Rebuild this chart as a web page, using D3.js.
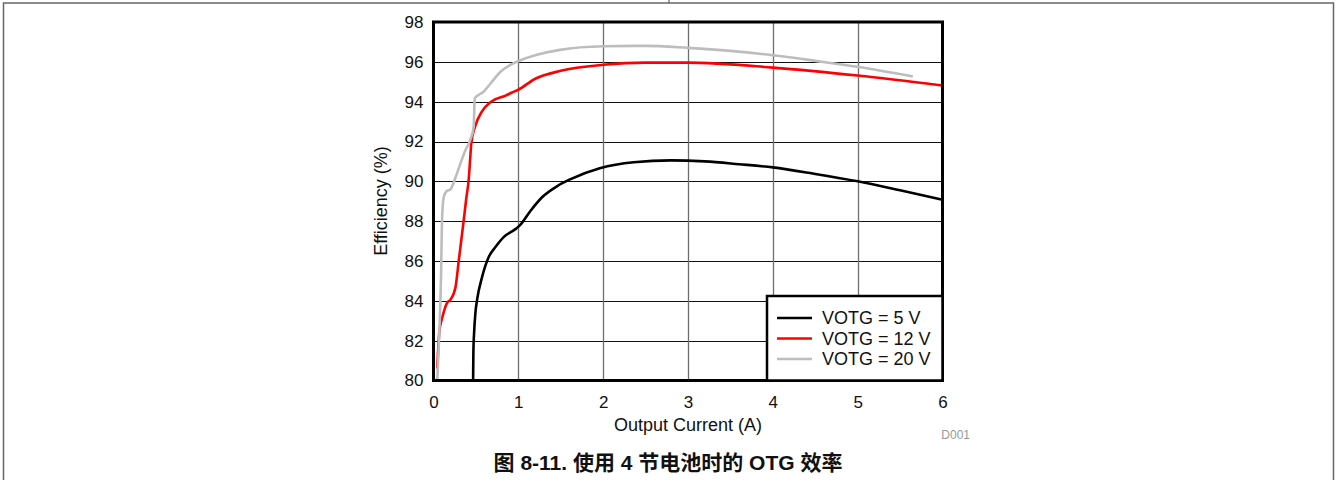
<!DOCTYPE html>
<html>
<head>
<meta charset="utf-8">
<script src="https://cdn.jsdelivr.net/npm/d3@7"></script>
<style>
  html, body { margin: 0; padding: 0; background: #fff; }
  svg { display: block; font-family: "Liberation Sans", Arial, sans-serif; }
</style>
</head>
<body>
<svg id="chart" width="1337" height="480"></svg>
<script>
// Output current (A) vs. efficiency (%) for each OTG output voltage
const series5V = [
  [0.467, 80.0], [0.470, 81.4], [0.480, 82.5], [0.494, 83.4], [0.514, 84.06],
  [0.573, 85.2], [0.651, 86.2], [0.73, 86.7], [0.827, 87.2], [0.965, 87.6],
  [1.02, 87.8], [1.14, 88.5], [1.28, 89.2], [1.455, 89.75], [1.61, 90.1],
  [1.96, 90.66], [2.36, 90.96], [2.8, 91.05], [3.2, 91.0], [3.6, 90.86],
  [4.0, 90.7], [4.5, 90.37], [5.0, 90.0], [5.5, 89.55], [6.0, 89.08]
];
const series12V = [
  [0.044, 80.6], [0.07, 82.5], [0.10, 83.1], [0.16, 83.9], [0.20, 84.06],
  [0.26, 84.7], [0.30, 86.1], [0.357, 88.07], [0.385, 89.1], [0.415, 90.1],
  [0.435, 91.3], [0.445, 91.9], [0.49, 92.75], [0.57, 93.5], [0.68, 94.0],
  [0.85, 94.3], [0.92, 94.45], [1.0, 94.6], [1.2, 95.15], [1.5, 95.55],
  [2.0, 95.85], [2.5, 95.96], [3.0, 95.96], [4.0, 95.71], [5.0, 95.31], [6.0, 94.81]
];
const series20V = [
  [0.044, 80.0], [0.06, 81.5], [0.074, 83.0], [0.09, 85.5], [0.10, 88.0],
  [0.12, 89.2], [0.153, 89.5], [0.2, 89.6], [0.26, 90.2], [0.318, 90.9],
  [0.37, 91.5], [0.435, 92.1], [0.474, 92.75], [0.486, 94.17], [0.59, 94.5],
  [0.67, 94.9], [0.79, 95.5], [0.906, 95.85], [1.02, 96.07], [1.22, 96.35],
  [1.49, 96.6], [2.0, 96.78], [2.5, 96.8], [3.0, 96.7], [3.5, 96.55],
  [4.0, 96.33], [4.5, 96.05], [5.0, 95.75], [5.65, 95.26]
];
const seriesNames = ["VOTG = 5 V", "VOTG = 12 V", "VOTG = 20 V"];
const seriesColors = ["#000000", "#ff0000", "#bdbdbd"];
const xTicks = [0, 1, 2, 3, 4, 5, 6];
const yTicks = [80, 82, 84, 86, 88, 90, 92, 94, 96, 98];
const xTitle = "Output Current (A)";
const yTitle = "Efficiency (%)";
const figTitle = "图 8-11. 使用 4 节电池时的 OTG 效率";
const figCode = "D001";

const svg = d3.select("#chart");
const plot = { left: 433.5, right: 942.5, top: 22, bottom: 380.5 };

const x = d3.scaleLinear().domain([0, 6]).range([plot.left, plot.right]);
const y = d3.scaleLinear().domain([80, 98]).range([plot.bottom, plot.top]);

// page frame
svg.append("rect")
  .attr("x", 3.5).attr("y", 3).attr("width", 1330).attr("height", 490)
  .attr("fill", "none").attr("stroke", "#666").attr("stroke-width", 1.5);
svg.append("line")
  .attr("x1", 669).attr("x2", 669).attr("y1", 0).attr("y2", 3)
  .attr("stroke", "#666").attr("stroke-width", 1.2);

// grid
const grid = svg.append("g");
grid.selectAll("line.h").data(yTicks.slice(1, -1)).join("line")
  .attr("x1", plot.left).attr("x2", plot.right)
  .attr("y1", d => Math.round(y(d)) + 0.5).attr("y2", d => Math.round(y(d)) + 0.5)
  .attr("stroke", "#111").attr("stroke-width", 1);
grid.selectAll("line.v").data(xTicks.slice(1, -1)).join("line")
  .attr("y1", plot.top).attr("y2", plot.bottom)
  .attr("x1", d => Math.round(x(d)) + 0.5).attr("x2", d => Math.round(x(d)) + 0.5)
  .attr("stroke", "#6e6e6e").attr("stroke-width", 1.3);

// axes labels via d3 axes (ticks hidden, labels only)
const xAxis = svg.append("g")
  .attr("transform", `translate(0,${plot.bottom})`)
  .call(d3.axisBottom(x).tickValues(xTicks).tickSize(0).tickPadding(15).tickFormat(d3.format("d")));
const yAxis = svg.append("g")
  .attr("transform", `translate(${plot.left},0)`)
  .call(d3.axisLeft(y).tickValues(yTicks).tickSize(0).tickPadding(10).tickFormat(d3.format("d")));
[xAxis, yAxis].forEach(a => {
  a.select(".domain").remove();
  a.selectAll("text").attr("font-family", "Liberation Sans, Arial, sans-serif")
    .attr("font-size", 17).attr("fill", "#111");
});

// curves
const line = d3.line().x(d => x(d[0])).y(d => y(d[1])).curve(d3.curveMonotoneX);
const allSeries = [series5V, series12V, series20V];
svg.append("defs").append("clipPath").attr("id", "clip")
  .append("rect").attr("x", plot.left).attr("y", plot.top)
  .attr("width", plot.right - plot.left).attr("height", plot.bottom - plot.top);
const curves = svg.append("g").attr("clip-path", "url(#clip)");
[0, 1, 2].forEach(i => {
  curves.append("path").datum(allSeries[i])
    .attr("d", line).attr("fill", "none")
    .attr("stroke", seriesColors[i]).attr("stroke-width", 2.6)
    .attr("stroke-linejoin", "round");
});

// plot frame
svg.append("rect")
  .attr("x", plot.left).attr("y", plot.top)
  .attr("width", plot.right - plot.left).attr("height", plot.bottom - plot.top)
  .attr("fill", "none").attr("stroke", "#000").attr("stroke-width", 3);

// legend
const lg = { x0: 767, y0: 296, x1: plot.right, y1: plot.bottom };
svg.append("rect")
  .attr("x", lg.x0).attr("y", lg.y0).attr("width", lg.x1 - lg.x0).attr("height", lg.y1 - lg.y0)
  .attr("fill", "#fff").attr("stroke", "#000").attr("stroke-width", 2.5);
seriesNames.forEach((name, i) => {
  const cy = 318 + i * 20.5;
  svg.append("line").attr("x1", 777).attr("x2", 812).attr("y1", cy).attr("y2", cy)
    .attr("stroke", seriesColors[i]).attr("stroke-width", 2.6);
  svg.append("text").attr("x", 822).attr("y", cy).attr("dy", "0.36em")
    .attr("font-size", 18).attr("fill", "#111").text(name);
});

// titles
svg.append("text").attr("x", (plot.left + plot.right) / 2).attr("y", 431)
  .attr("text-anchor", "middle").attr("font-size", 18).attr("fill", "#111").text(xTitle);
svg.append("text").attr("transform", "translate(387,201) rotate(-90)")
  .attr("text-anchor", "middle").attr("font-size", 18).attr("fill", "#111").text(yTitle);
svg.append("text").attr("x", 970).attr("y", 439).attr("text-anchor", "end")
  .attr("font-size", 12).attr("fill", "#999").text(figCode);
svg.append("text").attr("x", 668).attr("y", 470).attr("text-anchor", "middle")
  .attr("font-family", "'Liberation Sans', 'Noto Sans CJK SC', sans-serif")
  .attr("font-weight", "bold").attr("font-size", 21).attr("fill", "#111").text(figTitle);
</script>
</body>
</html>
